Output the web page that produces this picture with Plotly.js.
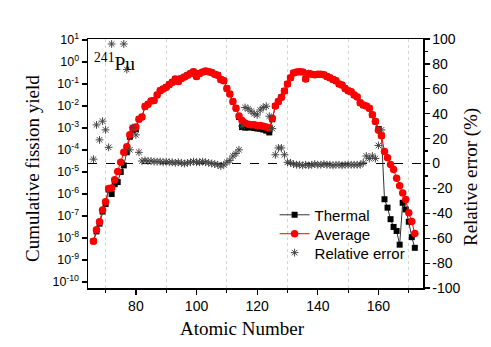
<!DOCTYPE html>
<html>
<head>
<meta charset="utf-8">
<script src="https://cdn.plot.ly/plotly-3.0.1.min.js"></script>
<style>
  html, body { margin: 0; padding: 0; background: #fff; }
  #chart { width: 491px; height: 347px; }
</style>
</head>
<body>
<div id="chart"></div>
<script>
// ---- data ----
const massNumber = [
  66, 67, 68, 69, 70, 71, 72, 73, 74, 75, 76, 77, 78, 79, 80, 81, 82, 83, 84, 85,
  86, 87, 88, 89, 90, 91, 92, 93, 94, 95, 96, 97, 98, 99, 100, 101, 102, 103, 104, 105,
  106, 107, 108, 109, 110, 111, 112, 113, 114, 115, 116, 117, 118, 119, 120, 121, 122, 123, 124, 125,
  126, 127, 128, 129, 130, 131, 132, 133, 134, 135, 136, 137, 138, 139, 140, 141, 142, 143, 144, 145,
  146, 147, 148, 149, 150, 151, 152, 153, 154, 155, 156, 157, 158, 159, 160, 161, 162, 163, 164, 165,
  166, 167, 168, 169, 170, 171, 172
];

const thermalYield = [
  7.2e-9, 2.0e-8, 4.5e-8, 1.6e-7, 3.5e-7, 1.6e-6, 1.0e-6, 2.8e-6, 3.5e-6, 1.0e-5,
  2.0e-5, 7.9e-5, 4.0e-4, 7.9e-4, 8.9e-4, 2.5e-3, 3.2e-3, 9.5e-3, 1.2e-2, 1.7e-2,
  1.8e-2, 3.2e-2, 5.0e-2, 6.0e-2, 7.2e-2, 9.5e-2, 0.12, 0.17, 0.13, 0.18,
  0.21, 0.25, 0.30, 0.36, 0.22, 0.30, 0.35, 0.39, 0.36, 0.33,
  0.28, 0.25, 0.16, 0.14, 6.3e-2, 3.5e-2, 1.6e-2, 7.9e-3, 3.2e-3, 1.1e-3,
  1.05e-3, 1.05e-3, 1.1e-3, 1.0e-3, 9.5e-4, 9.3e-4, 8.5e-4, 7.6e-4, 6.3e-4, 2.5e-3,
  1.0e-2, 1.6e-2, 2.5e-2, 4.8e-2, 0.10, 0.19, 0.32, 0.35, 0.36, 0.35,
  0.17, 0.30, 0.28, 0.26, 0.28, 0.28, 0.26, 0.22, 0.19, 0.16,
  0.14, 0.10, 8.9e-2, 6.3e-2, 5.0e-2, 4.4e-2, 3.2e-2, 2.6e-2, 1.4e-2, 1.1e-2,
  1.0e-2, 7.9e-3, 4.0e-3, 2.0e-3, 8.9e-4, 4.5e-4, 5.8e-7, 2.4e-7, 7.2e-8, 3.2e-8,
  2.1e-8, 5.0e-9, 4.0e-7, 2.0e-7, 5.5e-8, 1.1e-8, 3.6e-9
];

const averageYield = [
  7.2e-9, 2.4e-8, 5.5e-8, 1.9e-7, 4.5e-7, 1.8e-6, 1.9e-6, 4.5e-6, 1.05e-5, 2.8e-5,
  7.9e-5, 1.4e-4, 5.0e-4, 1.0e-3, 1.1e-3, 2.5e-3, 3.2e-3, 9.5e-3, 1.2e-2, 1.7e-2,
  1.8e-2, 3.2e-2, 5.0e-2, 6.0e-2, 7.2e-2, 9.5e-2, 0.12, 0.17, 0.13, 0.18,
  0.21, 0.25, 0.30, 0.36, 0.22, 0.30, 0.35, 0.39, 0.36, 0.33,
  0.28, 0.25, 0.16, 0.14, 6.3e-2, 3.5e-2, 1.6e-2, 7.9e-3, 3.5e-3, 2.2e-3,
  1.7e-3, 1.5e-3, 1.4e-3, 1.4e-3, 1.3e-3, 1.3e-3, 1.2e-3, 1.1e-3, 1.0e-3, 2.8e-3,
  1.0e-2, 1.6e-2, 2.5e-2, 4.8e-2, 0.10, 0.19, 0.32, 0.35, 0.36, 0.35,
  0.17, 0.30, 0.28, 0.26, 0.28, 0.28, 0.26, 0.22, 0.19, 0.16,
  0.14, 0.10, 8.9e-2, 6.3e-2, 5.0e-2, 4.4e-2, 3.2e-2, 2.6e-2, 1.4e-2, 1.1e-2,
  1.0e-2, 7.9e-3, 4.0e-3, 2.0e-3, 7.9e-4, 4.5e-4, 8.5e-5, 4.5e-5, 2.2e-5, 1.3e-5,
  5.2e-6, 2.4e-6, 1.1e-6, 5.6e-7, 1.4e-7, 5.6e-8, 1.6e-8
];

// relative error in %, null where no point is drawn
const relativeError = [
  3.5, 31, 19, 34, 27, 13, 96, null, null, null,
  96, 75.5, 11, 29, 23, 9, 2, 2.5, 2, 2,
  1.5, 1.5, 1.5, 1, 1.5, 1, 1, 0.5, 1, 0.5,
  0, 0.5, 1, 1.5, 1, 1, 1.5, 1, 0.5, 0,
  -0.5, -1, -2, -1, 1, 2.5, 6, 8, 11, 30,
  45, 44, 42, 40, 39, 43, 45, 46, 38, 28,
  7, 12.5, 12.5, 7, 1, 0.5, -0.5, -1, -1, -1.5,
  -1, -1.5, -1, -0.5, -1, -1, -0.5, -1, -1, -1.5,
  -1, -1, -1.5, -1, -1, -1, -1, -1, -1, 0.5,
  6, 4, 6, 4, 14.5, 27, null, null, null, null,
  null, null, null, null, null, null, null
];

const errorReference = 0;

const yieldTicks = [1e-10, 1e-9, 1e-8, 1e-7, 1e-6, 1e-5, 1e-4, 1e-3, 1e-2, 1e-1, 1, 10];
const yieldTickText = ["10<sup>-10</sup>", "10<sup>-9</sup>", "10<sup>-8</sup>", "10<sup>-7</sup>",
  "10<sup>-6</sup>", "10<sup>-5</sup>", "10<sup>-4</sup>", "10<sup>-3</sup>", "10<sup>-2</sup>",
  "10<sup>-1</sup>", "10<sup>0</sup>", "10<sup>1</sup>"];
const errorTicks = [-100, -80, -60, -40, -20, 0, 20, 40, 60, 80, 100];
const errorTickText = ["-100", "-80", "-60", "-40", "-20", "0", "20", "40", "60", "80", "100"];

// ---- drawing ----
const SANS = "Liberation Sans, Arial, sans-serif";
const SERIF = "Liberation Serif, Times New Roman, serif";

const traces = [
  {
    type: "scatter", mode: "lines+markers", name: "Thermal", legend: "legend",
    x: massNumber, y: thermalYield,
    line: { color: "#333", width: 1 },
    marker: { symbol: "square", size: 6, color: "#000" },
  },
  {
    type: "scatter", mode: "lines+markers", name: "Average", legend: "legend2",
    x: massNumber, y: averageYield,
    line: { color: "#ff0000", width: 1 },
    marker: { symbol: "circle", size: 7.5, color: "#ff0000" },
  },
  {
    type: "scatter", mode: "markers", name: "Relative error", legend: "legend3",
    x: massNumber, y: relativeError, yaxis: "y2",
    marker: { symbol: "asterisk-open", size: 6.5, color: "#444", line: { color: "#444", width: 1 } },
  },
];

const axisLine = { showline: true, linecolor: "#000", linewidth: 1.5, ticks: "outside", ticklen: 5, tickcolor: "#000", tickwidth: 1.2 };

// one legend box per entry so the rows sit as tight as in the reference
function legendAt(y) {
  return {
    x: 0.557, y: y, xanchor: "left", yanchor: "middle",
    bgcolor: "rgba(0,0,0,0)", font: { family: SANS, size: 15, color: "#000" },
  };
}

function titleNote(text, x, y, angle) {
  return {
    xref: "paper", yref: "paper", x: x, y: y, xanchor: "center", yanchor: "middle",
    text: text, textangle: angle, showarrow: false,
    font: { family: SERIF, size: 19, color: "#000" },
  };
}

const layout = {
  width: 491, height: 347,
  margin: { l: 88, r: 68, t: 39, b: 59 },
  paper_bgcolor: "#fff", plot_bgcolor: "#fff",
  showlegend: true,
  font: { family: SANS, size: 14, color: "#000" },
  xaxis: Object.assign({}, axisLine, {
    range: [64.2, 174.7], tick0: 0, dtick: 20, mirror: true,
    showgrid: false, zeroline: false,
    minor: { tick0: 0, dtick: 10, ticks: "outside", ticklen: 3, tickcolor: "#000",
      showgrid: true, gridcolor: "#d6d6d6", griddash: "dot", gridwidth: 1 },
    tickfont: { family: SANS, size: 14 },
  }),
  yaxis: Object.assign({}, axisLine, {
    type: "log", range: [-10.27, 1.045],
    tickmode: "array", tickvals: yieldTicks, ticktext: yieldTickText,
    showgrid: false, zeroline: false,
    tickfont: { family: SANS, size: 12.5 },
  }),
  yaxis2: Object.assign({}, axisLine, {
    overlaying: "y", side: "right", range: [-100, 100],
    tickmode: "array", tickvals: errorTicks, ticktext: errorTickText,
    minor: { dtick: 10, ticks: "outside", ticklen: 3, tickcolor: "#000" },
    showgrid: false, zeroline: false,
    tickfont: { family: SANS, size: 14 },
  }),
  legend: legendAt(0.293),
  legend2: legendAt(0.217),
  legend3: legendAt(0.141),
  shapes: [{
    type: "line", xref: "paper", x0: 0, x1: 1, yref: "y2", y0: errorReference, y1: errorReference,
    line: { color: "#000", width: 1.2, dash: "dash" }, layer: "below",
  }],
  annotations: [
    titleNote("Atomic Number", 0.461, -0.161, 0),
    titleNote("Cumulative fission yield", -0.164, 0.478, -90),
    titleNote("Relative error (%)", 1.145, 0.444, -90),
    {
      xref: "paper", yref: "paper", x: 0.012, y: 0.962, xanchor: "left", yanchor: "top",
      text: "<sup>241</sup>Pu", showarrow: false, font: { family: SERIF, size: 19.5, color: "#000" },
    },
  ],
};

Plotly.newPlot("chart", traces, layout, { staticPlot: true, displayModeBar: false });
</script>
</body>
</html>
